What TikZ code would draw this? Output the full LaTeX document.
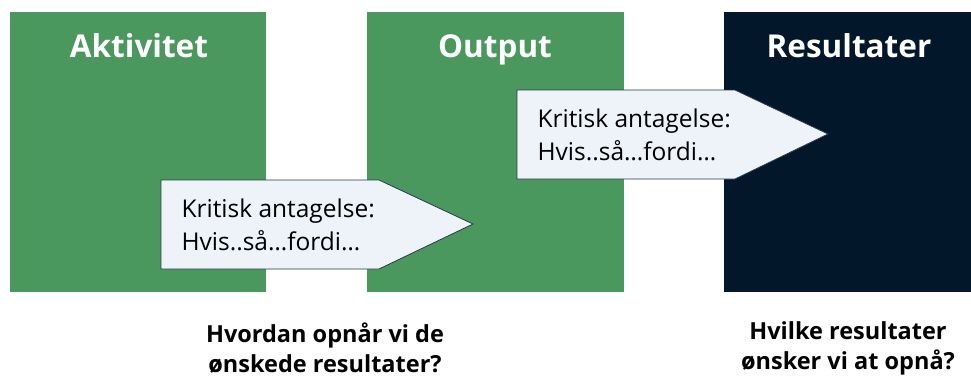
\documentclass[tikz,border=0pt]{standalone}
\usepackage{fontspec}
\setmainfont{Open Sans}
\definecolor{boxgreen}{RGB}{74,152,94}
\definecolor{boxnavy}{RGB}{2,24,42}
\definecolor{callfill}{RGB}{238,243,250}
\definecolor{callline}{RGB}{40,55,75}
\tikzset{
  title/.style={white,anchor=base,font=\bfseries\fontsize{31.5}{36}\selectfont},
  calltext/.style={anchor=west,align=left,font=\fontsize{24.5}{33}\selectfont},
  question/.style={align=center,font=\bfseries\fontsize{23.5}{30}\selectfont},
  callout/.style={draw=callline,fill=callfill,line width=0.8pt}
}
\begin{document}
\begin{tikzpicture}[x=1pt,y=-1pt]
\useasboundingbox (0,0) rectangle (971,378);
% three columns
\fill[boxgreen] (10,12) rectangle (266,292);
\fill[boxgreen] (367,12) rectangle (624,292);
\fill[boxnavy] (724,12) rectangle (971,292);
\node[title] (akt) at (139,57) {Aktivitet};
\node[title] (out) at (495,57) {Output};
\node[title] (res) at (849,57) {Resultater};
% assumptions
\draw[callout] (161,180) -- (379,180) -- (473,224) -- (379,269) -- (161,269) -- cycle;
\node[calltext] (ant1) at (178,225) {Kritisk antagelse:\\Hvis..så…fordi…};
\draw[callout] (517,90) -- (735,90) -- (828,134) -- (735,179) -- (517,179) -- cycle;
\node[calltext] (ant2) at (534,135) {Kritisk antagelse:\\Hvis..så…fordi…};
% questions
\node[question] (how) at (325,348) {Hvordan opnår vi de\\ønskede resultater?};
\node[question] (what) at (848,348) {Hvilke resultater\\ønsker vi at opnå?};
\end{tikzpicture}
\end{document}
